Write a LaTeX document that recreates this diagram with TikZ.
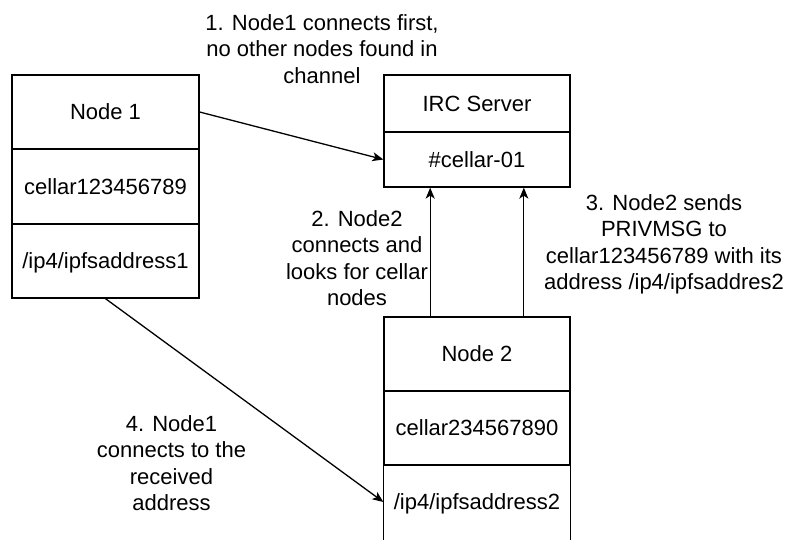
\documentclass[tikz,border=0pt]{standalone}
\usepackage{fontspec}
\setmainfont{Liberation Sans}
\usetikzlibrary{arrows.meta,calc}
\begin{document}
\begin{tikzpicture}[x=1pt,y=-1pt,
  font=\fontsize{22}{26.5}\selectfont,
  box/.style={line width=1.3pt},
  cell/.style={draw, box, inner sep=0pt, text height=15.8pt, text depth=0pt, anchor=center},
  note/.style={align=center, inner sep=0pt, anchor=north},
  arr/.style={line width=1.3pt, -{Stealth[length=11pt,width=9pt,inset=3pt]}}]
\useasboundingbox (0,0) rectangle (787,539);

% Node 1
\node[cell, minimum width=187pt, minimum height=74pt] (n1a) at (105.5,112) {Node 1};
\node[cell, minimum width=187pt, minimum height=75pt] (n1b) at (105.5,186.5) {cellar123456789};
\node[cell, minimum width=187pt, minimum height=74pt] (n1c) at (105.5,261) {/ip4/ipfsaddress1};

% IRC server
\node[cell, minimum width=186pt, minimum height=57pt] (irca) at (477,103.5) {IRC Server};
\node[cell, minimum width=186pt, minimum height=55pt] (ircb) at (477,159.5) {\#cellar-01};

% Node 2 (its last cell runs past the lower edge)
\node[cell, minimum width=186pt, minimum height=74pt] (n2a) at (477,354) {Node 2};
\node[cell, minimum width=186pt, minimum height=74pt] (n2b) at (477,428) {cellar234567890};
\node[cell, draw=none, minimum width=186pt, minimum height=74pt] (n2c) at (477,502) {/ip4/ipfsaddress2};
\draw[box] ([yshift=-8pt]n2c.south west) -- (n2c.north west) -- (n2c.north east) -- ([yshift=-8pt]n2c.south east);

% Connectors
\draw[arr] (n1a.east) -- (ircb.west);
\draw[arr] ($(n2a.north west)!0.25!(n2a.north east)$) -- ($(ircb.south west)!0.25!(ircb.south east)$);
\draw[arr] ($(n2a.north west)!0.75!(n2a.north east)$) -- ($(ircb.south west)!0.75!(ircb.south east)$);
\draw[arr] (n1c.south) -- (n2c.west);

% Step labels
\node[note] (l1) at (322,14) {1. Node1 connects first,\\no other nodes found in\\channel};
\node[note] (l2) at (357,210) {2. Node2\\connects and\\looks for cellar\\nodes};
\node[note] (l3) at (664,194) {3. Node2 sends\\PRIVMSG to\\cellar123456789 with its\\address /ip4/ipfsaddres2};
\node[note] (l4) at (171.5,415) {4. Node1\\connects to the\\received\\address};
\end{tikzpicture}
\end{document}
